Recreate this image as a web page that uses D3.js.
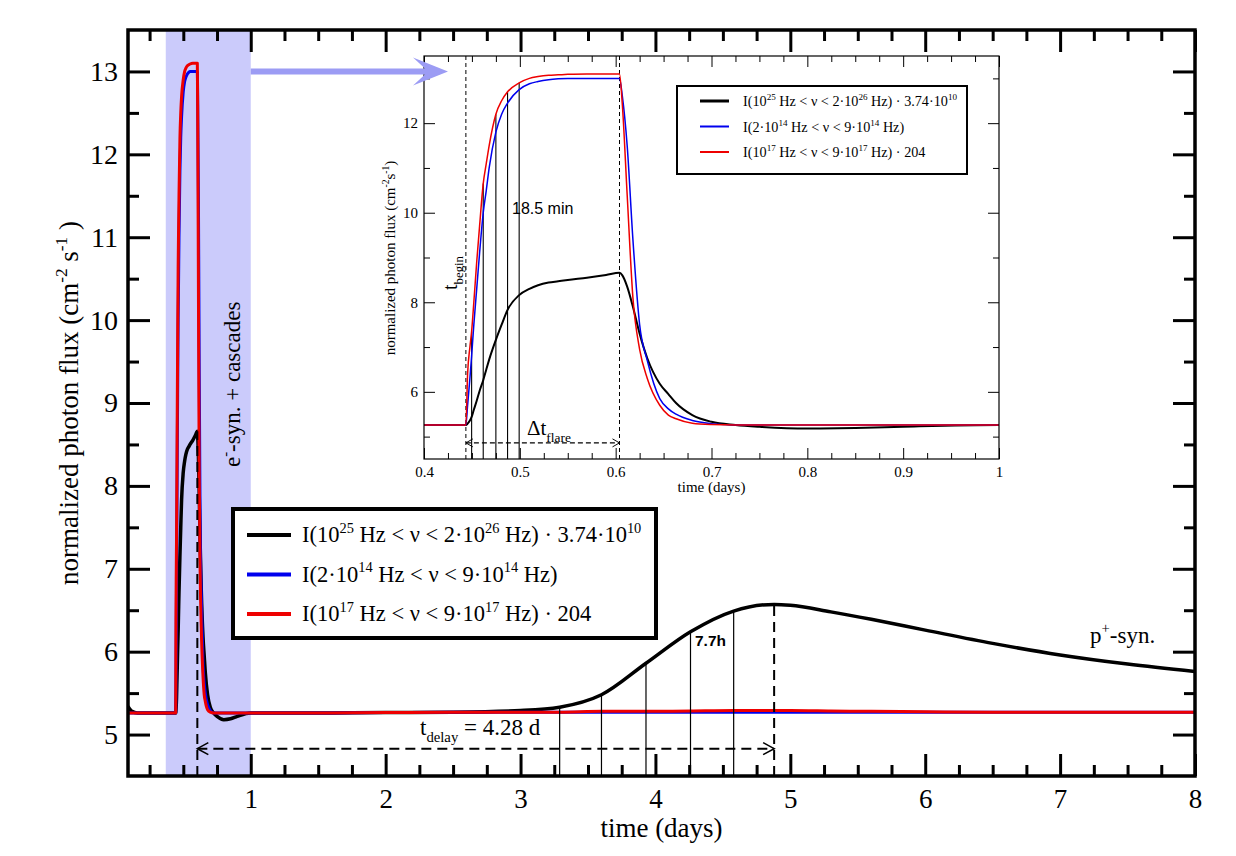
<!DOCTYPE html>
<html>
<head>
<meta charset="utf-8">
<script src="https://cdn.jsdelivr.net/npm/d3@7"></script>
<style>
  body { margin: 0; background: #fff; }
  text { white-space: pre; }
</style>
</head>
<body>
<svg id="chart"></svg>
<script>
// time samples (days) shared by the big panel and the zoomed inset
const days = [0.09, 0.12, 0.16, 0.30, 0.4437, 0.4455, 0.4479, 0.4497, 0.452, 0.455,
  0.458, 0.4618, 0.465, 0.468, 0.475, 0.481, 0.4872, 0.4993, 0.51, 0.519,
  0.53, 0.54, 0.55, 0.57, 0.59, 0.604, 0.607, 0.612, 0.618, 0.625,
  0.633, 0.646, 0.655, 0.663, 0.68, 0.70, 0.725, 0.75, 0.80, 0.85,
  0.90, 1.0, 1.5, 2.0, 2.5, 3.0, 3.29, 3.60, 3.93, 4.26,
  4.58, 4.88, 5.0, 5.3, 5.6, 6.0, 6.5, 7.0, 7.5, 8.0];

// I(1e25..2e26 Hz) * 3.74e10  (black)
const gammaFlux = [5.34, 5.28, 5.26, 5.26, 5.26, 5.29, 5.36, 5.44, 5.60, 5.80,
  6.02, 6.26, 6.50, 6.72, 7.16, 7.50, 7.83, 8.16, 8.30, 8.38,
  8.44, 8.47, 8.50, 8.55, 8.61, 8.66, 8.60, 8.35, 7.90, 7.30,
  6.75, 6.18, 5.95, 5.75, 5.48, 5.33, 5.26, 5.22, 5.18, 5.19,
  5.22, 5.26, 5.26, 5.265, 5.27, 5.29, 5.33, 5.48, 5.86, 6.24,
  6.49, 6.57, 6.56, 6.48, 6.39, 6.26, 6.10, 5.96, 5.85, 5.76];

// I(2e14..9e14 Hz)  (blue)
const opticalFlux = [5.26, 5.26, 5.26, 5.26, 5.26, 5.70, 6.30, 6.80, 7.50, 8.30,
  9.10, 10.0, 10.5, 11.0, 11.8, 12.2, 12.45, 12.75, 12.88, 12.93,
  12.97, 12.99, 13.0, 13.0, 13.0, 13.0, 12.6, 11.5, 9.40, 7.50,
  6.70, 5.85, 5.62, 5.50, 5.36, 5.29, 5.26, 5.26, 5.26, 5.26,
  5.26, 5.26, 5.26, 5.265, 5.27, 5.27, 5.27, 5.27, 5.27, 5.27,
  5.27, 5.27, 5.27, 5.27, 5.27, 5.27, 5.27, 5.27, 5.27, 5.27];

// I(1e17..9e17 Hz) * 204  (red)
const xrayFlux = [5.26, 5.26, 5.26, 5.26, 5.26, 6.40, 7.00, 7.35, 8.00, 8.90,
  9.70, 10.65, 11.1, 11.5, 12.2, 12.5, 12.7, 12.9, 13.0, 13.04,
  13.07, 13.08, 13.09, 13.1, 13.1, 13.1, 12.4, 10.4, 8.10, 6.95,
  6.30, 5.70, 5.48, 5.40, 5.30, 5.27, 5.26, 5.26, 5.26, 5.26,
  5.26, 5.26, 5.26, 5.265, 5.27, 5.27, 5.27, 5.28, 5.28, 5.285,
  5.29, 5.29, 5.29, 5.285, 5.28, 5.275, 5.27, 5.27, 5.27, 5.27];

const mainXTicks = [1, 2, 3, 4, 5, 6, 7, 8];
const mainYTicks = [5, 6, 7, 8, 9, 10, 11, 12, 13];
const insetXTicks = [0.4, 0.5, 0.6, 0.7, 0.8, 0.9, 1.0];
const insetYTicks = [6, 8, 10, 12];

const flareBand = [0.37, 1.0];        // shaded e- syn. window
const flareBegin = 0.4437, flareEnd = 0.604;
const pPeak = 4.88;                   // proton synchrotron maximum
const delayMarks = [3.29, 3.60, 3.93, 4.26, 4.58];   // 7.7 h steps
const riseMarks = [0.4497, 0.4618, 0.475, 0.4872, 0.4993]; // 18.5 min steps

const legendRows = [
  { color: "#000", parts: [{t: "I(10"}, {t: "25", sup: 1}, {t: " Hz < ν < 2·10"}, {t: "26", sup: 1}, {t: " Hz) · 3.74·10"}, {t: "10", sup: 1}] },
  { color: "#0000ee", parts: [{t: "I(2·10"}, {t: "14", sup: 1}, {t: " Hz < ν < 9·10"}, {t: "14", sup: 1}, {t: " Hz)"}] },
  { color: "#ee0000", parts: [{t: "I(10"}, {t: "17", sup: 1}, {t: " Hz < ν < 9·10"}, {t: "17", sup: 1}, {t: " Hz) · 204"}] }
];

const serif = "Liberation Serif";
const sans = "Liberation Sans";

const W = 1236, H = 856;
const svg = d3.select("#chart").attr("width", W).attr("height", H);

// main panel
const x = d3.scaleLinear().domain([0.09, 8]).range([128, 1195]);
const y = d3.scaleLinear().domain([4.5, 13.5]).range([776, 30]);
// inset panel
const xi = d3.scaleLinear().domain([0.4, 1]).range([424, 999]);
const yi = d3.scaleLinear().domain([4.5, 13.5]).range([459, 56]);

const series = [
  { vals: gammaFlux, color: "#000", w: 3.5, wi: 2 },
  { vals: opticalFlux, color: "#0000ee", w: 3, wi: 1.5 },
  { vals: xrayFlux, color: "#ee0000", w: 3, wi: 1.5 }
];

function valueAt(vals, t) {
  const i = d3.bisectLeft(days, t);
  if (i <= 0) return vals[0];
  if (i >= days.length) return vals[vals.length - 1];
  const f = (t - days[i - 1]) / (days[i] - days[i - 1]);
  return vals[i - 1] + f * (vals[i] - vals[i - 1]);
}

// text with super/subscripts
function rich(sel, parts, fs) {
  let cur = 0;
  parts.forEach(p => {
    const target = p.sup ? -fs * 0.42 : p.sub ? fs * 0.32 : 0;
    sel.append("tspan")
      .attr("dy", target - cur)
      .attr("font-size", (p.sup || p.sub) ? fs * 0.64 : fs)
      .text(p.t);
    cur = target;
  });
  return sel;
}

const defs = svg.append("defs");
defs.append("clipPath").attr("id", "clipMain").append("rect")
  .attr("x", 128).attr("y", 30).attr("width", 1067).attr("height", 746);
defs.append("clipPath").attr("id", "clipInset").append("rect")
  .attr("x", 424).attr("y", 56).attr("width", 575).attr("height", 403);

// shaded band
svg.append("rect")
  .attr("x", x(flareBand[0])).attr("y", y(13.5))
  .attr("width", x(flareBand[1]) - x(flareBand[0]))
  .attr("height", y(4.5) - y(13.5))
  .attr("fill", "#cbcbfb");

// main curves
const line = vals => d3.line().curve(d3.curveMonotoneX)
  .x((d, i) => x(days[i])).y((d, i) => y(vals[i]))(vals);
const gMain = svg.append("g").attr("clip-path", "url(#clipMain)");
series.forEach(s => {
  gMain.append("path").attr("d", line(s.vals))
    .attr("fill", "none").attr("stroke", s.color)
    .attr("stroke-width", s.w).attr("stroke-linejoin", "round");
});

// thin markers under the proton bump
delayMarks.forEach(t => {
  svg.append("line")
    .attr("x1", x(t)).attr("x2", x(t))
    .attr("y1", y(4.5)).attr("y2", y(valueAt(gammaFlux, t)))
    .attr("stroke", "#000").attr("stroke-width", 1.2);
});
// dashed verticals
svg.append("line")
  .attr("x1", x(pPeak)).attr("x2", x(pPeak))
  .attr("y1", y(4.5)).attr("y2", y(valueAt(gammaFlux, pPeak)))
  .attr("stroke", "#000").attr("stroke-width", 2).attr("stroke-dasharray", "10,6");
svg.append("line")
  .attr("x1", x(flareEnd)).attr("x2", x(flareEnd))
  .attr("y1", y(4.5)).attr("y2", y(valueAt(gammaFlux, flareEnd)))
  .attr("stroke", "#000").attr("stroke-width", 2).attr("stroke-dasharray", "10,6");

// t_delay arrow
function dashedArrow(g, x1, x2, yy, dash, sw, hl, hw) {
  g.append("line").attr("x1", x1).attr("x2", x2).attr("y1", yy).attr("y2", yy)
    .attr("stroke", "#000").attr("stroke-width", sw).attr("stroke-dasharray", dash);
  g.append("path").attr("d", `M${x1 + hl},${yy - hw}L${x1},${yy}L${x1 + hl},${yy + hw}`)
    .attr("fill", "none").attr("stroke", "#000").attr("stroke-width", sw * 0.8);
  g.append("path").attr("d", `M${x2 - hl},${yy - hw}L${x2},${yy}L${x2 - hl},${yy + hw}`)
    .attr("fill", "none").attr("stroke", "#000").attr("stroke-width", sw * 0.8);
}
dashedArrow(svg, x(flareEnd), x(pPeak), y(4.83), "10,6", 2, 11, 6);

rich(svg.append("text").attr("x", 420).attr("y", 735)
  .attr("font-family", serif).attr("font-size", 23),
  [{t: "t"}, {t: "delay", sub: 1}, {t: " = 4.28 d"}], 23);

svg.append("text").attr("x", 695).attr("y", 646)
  .attr("font-family", sans).attr("font-weight", "bold").attr("font-size", 15.5)
  .text("7.7h");

rich(svg.append("text").attr("x", 1090).attr("y", 643)
  .attr("font-family", serif).attr("font-size", 23),
  [{t: "p"}, {t: "+", sup: 1}, {t: "-syn."}], 23);

rich(svg.append("text")
  .attr("transform", "translate(240,467) rotate(-90)")
  .attr("font-family", serif).attr("font-size", 23),
  [{t: "e"}, {t: "-", sup: 1}, {t: "-syn. + cascades"}], 23);

// main axes
function styleAxis(g, sw, fs) {
  g.attr("font-family", serif).attr("font-size", fs);
  g.select(".domain").remove();
  g.selectAll(".tick line").attr("stroke", "#000").attr("stroke-width", sw);
  g.selectAll(".tick text").attr("font-family", serif).attr("font-size", fs).attr("fill", "#000");
}
const mainMinorX = d3.range(0.25, 8, 0.25).filter(v => Math.abs(v - Math.round(v)) > 1e-6);
const mainMinorY = d3.range(5.5, 13.5, 1);

svg.append("g").attr("transform", `translate(0,${y(4.5)})`)
  .call(d3.axisBottom(x).tickValues(mainXTicks).tickSize(-22).tickPadding(13).tickFormat(d3.format("d")))
  .call(g => styleAxis(g, 3, 27));
svg.append("g").attr("transform", `translate(0,${y(4.5)})`)
  .call(d3.axisBottom(x).tickValues(mainMinorX).tickSize(-11).tickFormat(""))
  .call(g => styleAxis(g, 3, 27));
svg.append("g").attr("transform", `translate(0,${y(13.5)})`)
  .call(d3.axisTop(x).tickValues(mainXTicks).tickSize(-22).tickFormat(""))
  .call(g => styleAxis(g, 3, 27));
svg.append("g").attr("transform", `translate(0,${y(13.5)})`)
  .call(d3.axisTop(x).tickValues(mainMinorX).tickSize(-11).tickFormat(""))
  .call(g => styleAxis(g, 3, 27));
svg.append("g").attr("transform", `translate(${x(0.09)},0)`)
  .call(d3.axisLeft(y).tickValues(mainYTicks).tickSize(-22).tickPadding(10).tickFormat(d3.format("d")))
  .call(g => styleAxis(g, 3, 28));
svg.append("g").attr("transform", `translate(${x(0.09)},0)`)
  .call(d3.axisLeft(y).tickValues(mainMinorY).tickSize(-11).tickFormat(""))
  .call(g => styleAxis(g, 3, 28));
svg.append("g").attr("transform", `translate(${x(8)},0)`)
  .call(d3.axisRight(y).tickValues(mainYTicks).tickSize(-22).tickFormat(""))
  .call(g => styleAxis(g, 3, 28));
svg.append("g").attr("transform", `translate(${x(8)},0)`)
  .call(d3.axisRight(y).tickValues(mainMinorY).tickSize(-11).tickFormat(""))
  .call(g => styleAxis(g, 3, 28));

svg.append("rect")
  .attr("x", x(0.09)).attr("y", y(13.5))
  .attr("width", x(8) - x(0.09)).attr("height", y(4.5) - y(13.5))
  .attr("fill", "none").attr("stroke", "#000").attr("stroke-width", 3.5);

svg.append("text").attr("x", (x(0.09) + x(8)) / 2).attr("y", 837)
  .attr("text-anchor", "middle").attr("font-family", serif).attr("font-size", 27)
  .text("time (days)");
rich(svg.append("text")
  .attr("transform", `translate(78,${(y(4.5) + y(13.5)) / 2}) rotate(-90)`)
  .attr("text-anchor", "middle").attr("font-family", serif).attr("font-size", 27),
  [{t: "normalized photon flux (cm"}, {t: "-2", sup: 1}, {t: " s"}, {t: "-1", sup: 1}, {t: " )"}], 27);

// main legend
const lg = svg.append("g");
lg.append("rect").attr("x", 233).attr("y", 509).attr("width", 423).attr("height", 129)
  .attr("fill", "#fff").attr("stroke", "#000").attr("stroke-width", 4);
legendRows.forEach((r, i) => {
  const yy = 535 + i * 39.5;
  lg.append("line").attr("x1", 247).attr("x2", 291).attr("y1", yy).attr("y2", yy)
    .attr("stroke", r.color).attr("stroke-width", 4);
  rich(lg.append("text").attr("x", 302).attr("y", yy + 7)
    .attr("font-family", serif).attr("font-size", 22.5), r.parts, 22.5);
});

// ---- inset ----
const gi = svg.append("g");
gi.append("rect").attr("x", 424).attr("y", 56).attr("width", 575).attr("height", 403)
  .attr("fill", "#fff");

const lineI = vals => d3.line().curve(d3.curveMonotoneX)
  .x((d, i) => xi(days[i])).y((d, i) => yi(vals[i]))(vals);
const gInCurves = gi.append("g").attr("clip-path", "url(#clipInset)");

riseMarks.forEach(t => {
  gInCurves.append("line")
    .attr("x1", xi(t)).attr("x2", xi(t))
    .attr("y1", yi(4.5)).attr("y2", yi(valueAt(xrayFlux, t)))
    .attr("stroke", "#000").attr("stroke-width", 1.1);
});
[flareBegin, flareEnd].forEach(t => {
  gInCurves.append("line")
    .attr("x1", xi(t)).attr("x2", xi(t)).attr("y1", yi(13.5)).attr("y2", yi(4.5))
    .attr("stroke", "#000").attr("stroke-width", 1).attr("stroke-dasharray", "4,3");
});
series.forEach(s => {
  gInCurves.append("path").attr("d", lineI(s.vals))
    .attr("fill", "none").attr("stroke", s.color)
    .attr("stroke-width", s.wi).attr("stroke-linejoin", "round");
});

dashedArrow(gi, xi(flareBegin), xi(flareEnd), yi(4.86), "5,3", 1.2, 7, 4);

rich(gi.append("text").attr("x", 527).attr("y", 435)
  .attr("font-family", serif).attr("font-size", 21),
  [{t: "Δt"}, {t: "flare", sub: 1}], 21);
gi.append("text").attr("x", 512).attr("y", 214)
  .attr("font-family", sans).attr("font-size", 16).text("18.5 min");
rich(gi.append("text")
  .attr("transform", "translate(457,290) rotate(-90)")
  .attr("font-family", serif).attr("font-size", 20),
  [{t: "t"}, {t: "begin", sub: 1}], 20);

const insetMinorX = d3.range(0.425, 1, 0.025).filter(v => Math.abs(v * 10 - Math.round(v * 10)) > 1e-6);
const insetMinorY = [5, 7, 9, 11, 13];

gi.append("g").attr("transform", `translate(0,${yi(4.5)})`)
  .call(d3.axisBottom(xi).tickValues(insetXTicks).tickSize(-11).tickPadding(7).tickFormat(d => d === 1 ? "1" : d3.format(".1f")(d)))
  .call(g => styleAxis(g, 1, 15));
gi.append("g").attr("transform", `translate(0,${yi(4.5)})`)
  .call(d3.axisBottom(xi).tickValues(insetMinorX).tickSize(-6).tickFormat(""))
  .call(g => styleAxis(g, 1, 15));
gi.append("g").attr("transform", `translate(0,${yi(13.5)})`)
  .call(d3.axisTop(xi).tickValues(insetXTicks).tickSize(-11).tickFormat(""))
  .call(g => styleAxis(g, 1, 15));
gi.append("g").attr("transform", `translate(0,${yi(13.5)})`)
  .call(d3.axisTop(xi).tickValues(insetMinorX).tickSize(-6).tickFormat(""))
  .call(g => styleAxis(g, 1, 15));
gi.append("g").attr("transform", `translate(${xi(0.4)},0)`)
  .call(d3.axisLeft(yi).tickValues(insetYTicks).tickSize(-11).tickPadding(6).tickFormat(d3.format("d")))
  .call(g => styleAxis(g, 1, 15));
gi.append("g").attr("transform", `translate(${xi(0.4)},0)`)
  .call(d3.axisLeft(yi).tickValues(insetMinorY).tickSize(-6).tickFormat(""))
  .call(g => styleAxis(g, 1, 15));
gi.append("g").attr("transform", `translate(${xi(1)},0)`)
  .call(d3.axisRight(yi).tickValues(insetYTicks).tickSize(-11).tickFormat(""))
  .call(g => styleAxis(g, 1, 15));
gi.append("g").attr("transform", `translate(${xi(1)},0)`)
  .call(d3.axisRight(yi).tickValues(insetMinorY).tickSize(-6).tickFormat(""))
  .call(g => styleAxis(g, 1, 15));

gi.append("rect").attr("x", 424).attr("y", 56).attr("width", 575).attr("height", 403)
  .attr("fill", "none").attr("stroke", "#000").attr("stroke-width", 1.2);

gi.append("text").attr("x", (xi(0.4) + xi(1)) / 2).attr("y", 492)
  .attr("text-anchor", "middle").attr("font-family", serif).attr("font-size", 15)
  .text("time (days)");
rich(gi.append("text")
  .attr("transform", `translate(395,258) rotate(-90)`)
  .attr("text-anchor", "middle").attr("font-family", serif).attr("font-size", 15),
  [{t: "normalized photon flux (cm"}, {t: "-2", sup: 1}, {t: "s"}, {t: "-1", sup: 1}, {t: ")"}], 15);

// inset legend
gi.append("rect").attr("x", 677).attr("y", 86).attr("width", 290).attr("height", 88)
  .attr("fill", "#fff").attr("stroke", "#000").attr("stroke-width", 2);
legendRows.forEach((r, i) => {
  const yy = 101 + i * 25.5;
  gi.append("line").attr("x1", 700).attr("x2", 729).attr("y1", yy).attr("y2", yy)
    .attr("stroke", r.color).attr("stroke-width", i === 0 ? 3 : 2);
  rich(gi.append("text").attr("x", 743).attr("y", yy + 5)
    .attr("font-family", serif).attr("font-size", 14.2), r.parts, 14.2);
});

// pointer from the shaded window to the inset
const ay = y(13), ax0 = x(1.0), ax1 = xi(0.4) + 24;
svg.append("path")
  .attr("d", `M${ax0},${ay - 3}L${ax1 - 23},${ay - 3}L${ax1 - 35},${ay - 14}L${ax1},${ay}L${ax1 - 35},${ay + 14}L${ax1 - 23},${ay + 3}L${ax0},${ay + 3}Z`)
  .attr("fill", "#9c9cf4");
</script>
</body>
</html>
